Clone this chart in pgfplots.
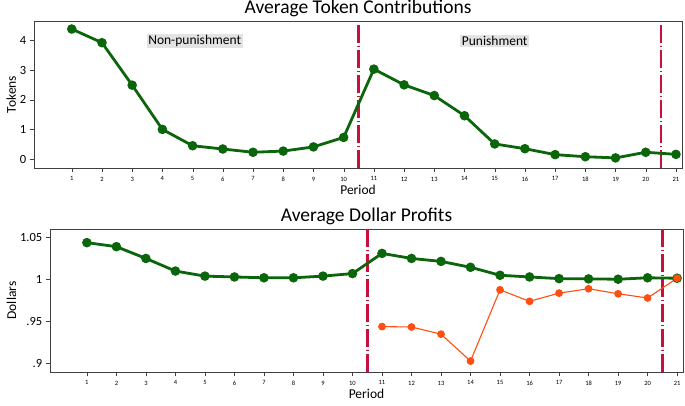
\documentclass[border=0pt]{standalone}
\usepackage{pgfplots}
\pgfplotsset{compat=1.18}
\usepackage{fontspec}
\setmainfont{Carlito}
\definecolor{dkgreen}{HTML}{0B650B}
\definecolor{orng}{HTML}{FF4E12}
\definecolor{crim}{HTML}{C8103C}
\definecolor{boxgray}{HTML}{E3E3E3}
\pgfplotsset{
  panel/.style={
    scale only axis, width=648pt, height=147pt,
    xmin=-0.25, xmax=21.2,
    xtick={1,...,21},
    tick align=outside, axis line style={black!75}, tick style={black!75},
    xtick pos=bottom, ytick pos=left,
    x tick label style={font=\fontsize{6.5}{7}\selectfont, yshift=-1pt},
    y tick label style={font=\fontsize{12.5}{14}\selectfont},
    /pgf/number format/assume math mode=true,
    xlabel={Period}, xlabel style={font=\fontsize{13.5}{14}\selectfont, yshift=3pt},
    ylabel style={font=\fontsize{13.5}{14}\selectfont, yshift=-3pt},
    title style={font=\fontsize{19.5}{20}\selectfont, yshift=-5pt},
  },
  sep/.style={crim, line width=2.6pt, dash pattern=on 18pt off 3pt on 1pt off 3pt},
}
\begin{document}
\begin{tikzpicture}
\path[use as bounding box] (0,0) rectangle (685pt,-405pt);
\begin{axis}[panel, at={(34pt,-21pt)}, anchor=north west,
  ymin=-0.3, ymax=4.65, ytick={0,1,2,3,4}, ylabel={Tokens},
  title={Average Token Contributions}]
\addplot[sep] coordinates {(10.5,-0.3) (10.5,4.65)};
\addplot[sep] coordinates {(20.5,-0.3) (20.5,4.65)};
\addplot[dkgreen, line width=2.8pt, mark=*, mark size=3.3pt] coordinates {
(1,4.38) (2,3.92) (3,2.49) (4,1.00) (5,0.45) (6,0.34) (7,0.23) (8,0.27) (9,0.41) (10,0.73)
(11,3.03) (12,2.50) (13,2.14) (14,1.46) (15,0.51) (16,0.35) (17,0.15) (18,0.08) (19,0.04) (20,0.23) (21,0.16)};
\node[fill=boxgray, inner sep=1.5pt, font=\fontsize{13.5}{14}\selectfont] at (axis cs:5.07,3.97) {Non-punishment};
\node[fill=boxgray, inner sep=1.5pt, font=\fontsize{13.5}{14}\selectfont] at (axis cs:15.0,3.97) {Punishment};
\end{axis}
\begin{axis}[panel, width=633pt, height=143pt, at={(50pt,-229pt)}, anchor=north west,
  ymin=0.89, ymax=1.06, ytick={0.9,0.95,1,1.05},
  yticklabels={.9,.95,1,1.05}, ylabel={Dollars},
  title={Average Dollar Profits}]
\addplot[sep] coordinates {(10.5,0.89) (10.5,1.06)};
\addplot[sep] coordinates {(20.5,0.89) (20.5,1.06)};
\addplot[dkgreen, line width=2.8pt, mark=*, mark size=3.3pt] coordinates {
(1,1.0438) (2,1.039) (3,1.025) (4,1.010) (5,1.004) (6,1.003) (7,1.002) (8,1.002) (9,1.004) (10,1.007)
(11,1.031) (12,1.025) (13,1.0215) (14,1.0145) (15,1.005) (16,1.003) (17,1.001) (18,1.0007) (19,1.0003) (20,1.002) (21,1.0015)};
\addplot[orng, line width=1.1pt, mark=*, mark size=3.3pt] coordinates {
(11,0.944) (12,0.9435) (13,0.935) (14,0.903) (15,0.9877) (16,0.974) (17,0.9838) (18,0.989) (19,0.983) (20,0.978) (21,1.0015)};
\end{axis}
\end{tikzpicture}
\end{document}
